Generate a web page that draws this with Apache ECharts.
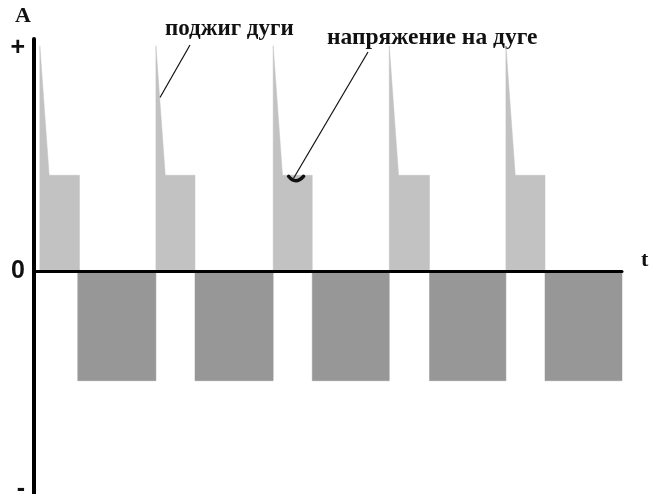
<!DOCTYPE html>
<html>
<head>
<meta charset="utf-8">
<script src="https://cdn.jsdelivr.net/npm/echarts@6/dist/echarts.min.js"></script>
<style>
  html, body { margin: 0; padding: 0; background: #fff; }
  #chart { width: 649px; height: 494px; }
</style>
</head>
<body>
<div id="chart"></div>
<script>
// Pulsed arc welding current: ignition spike, arc-voltage plateau, reverse half-period.
// Time in arbitrary units (period ~10), amplitude normalised to the ignition peak.
const cycleStart     = [0.5, 10.45, 20.5, 30.45, 40.45];   // ignition moment of each cycle
const arcEnd         = [3.9, 13.8, 23.85, 33.9, 43.8];     // end of positive plateau
const reverseStart   = [3.75, 13.8, 23.85, 33.9, 43.8];    // start of negative half-period
const reverseEnd     = [10.45, 20.5, 30.45, 40.45, 50.4];  // end of negative half-period
const ignitionPeak   = [1.0, 1.0, 1.0, 1.0, 1.0];
const arcVoltage     = [0.425, 0.425, 0.425, 0.425, 0.425];
const reverseVoltage = [-0.487, -0.487, -0.487, -0.487, -0.487];
const spikeTop  = 0.15;   // duration of spike crest
const spikeFall = 0.8;    // time for spike to fall to arc voltage

const tickValues = [-0.97, 0, 0.99];
const tickLabels = ['-', '0', '+'];

const positiveData = [];
const negativeData = [];
cycleStart.forEach((s, i) => {
  positiveData.push(
    [s, 0], [s, ignitionPeak[i]], [s + spikeTop, ignitionPeak[i]],
    [s + spikeFall, arcVoltage[i]], [arcEnd[i], arcVoltage[i]], [arcEnd[i], 0]
  );
  negativeData.push(
    [reverseStart[i], 0], [reverseStart[i], reverseVoltage[i]],
    [reverseEnd[i], reverseVoltage[i]], [reverseEnd[i], 0]
  );
});

const serif = '"Liberation Serif", "Times New Roman", serif';
const sans = '"Liberation Sans", Arial, sans-serif';

const chart = echarts.init(document.getElementById('chart'), null, { renderer: 'canvas' });
chart.setOption({
  animation: false,
  backgroundColor: '#fff',
  grid: { left: 34, right: 27, top: 39, bottom: 0, outerBoundsMode: 'none', containLabel: false },
  xAxis: {
    type: 'value', min: 0, max: 50.4, z: 5,
    axisLine: { onZero: true, lineStyle: { color: '#000', width: 3 } },
    axisTick: { show: false }, axisLabel: { show: false }, splitLine: { show: false },
    name: 't', nameGap: 19,
    nameTextStyle: { fontFamily: serif, fontWeight: 'bold', fontSize: 22, color: '#111', verticalAlign: 'bottom' }
  },
  yAxis: {
    type: 'value', min: -0.99, max: 1.03, z: 5,
    axisLine: { show: true, lineStyle: { color: '#000', width: 4 } },
    axisTick: { show: false }, splitLine: { show: false },
    axisLabel: {
      customValues: tickValues,
      formatter: v => tickLabels[tickValues.indexOf(v)],
      fontFamily: sans, fontWeight: 'bold', fontSize: 25, color: '#111', margin: 9
    },
    name: 'A', nameGap: 12,
    nameTextStyle: { fontFamily: serif, fontWeight: 'bold', fontSize: 22, color: '#111', align: 'right', padding: [0, 3, 0, 0] }
  },
  series: [
    {
      type: 'line', data: positiveData, showSymbol: false, silent: true,
      lineStyle: { color: '#c2c2c2', width: 0.5 },
      areaStyle: { color: '#c2c2c2', opacity: 1 }
    },
    {
      type: 'line', data: negativeData, showSymbol: false, silent: true,
      lineStyle: { color: '#979797', width: 0.5 },
      areaStyle: { color: '#979797', opacity: 1 }
    }
  ]
});

// Annotations: leader lines anchored to the waveform in data coordinates
const px = p => chart.convertToPixel({ gridIndex: 0 }, p);
const ignitionTip = px([cycleStart[1] + 0.35, 0.77]);
const arcTip = px([cycleStart[2] + 1.75, arcVoltage[2]]);

chart.setOption({
  graphic: [
    {
      type: 'text', left: 165, top: 18,
      style: { text: 'поджиг дуги', font: 'bold 23px ' + serif, fill: '#111' }
    },
    {
      type: 'text', left: 327, top: 26,
      style: { text: 'напряжение на дуге', font: 'bold 23.5px ' + serif, fill: '#111' }
    },
    {
      type: 'line', z: 10,
      shape: { x1: 190, y1: 45, x2: ignitionTip[0], y2: ignitionTip[1] },
      style: { stroke: '#111', lineWidth: 1.2 }
    },
    {
      type: 'line', z: 10,
      shape: { x1: 368, y1: 52, x2: arcTip[0], y2: arcTip[1] + 3 },
      style: { stroke: '#111', lineWidth: 1.2 }
    },
    {
      type: 'bezierCurve', z: 10,
      shape: {
        x1: arcTip[0] - 5, y1: arcTip[1] + 1,
        cpx1: arcTip[0] + 2, cpy1: arcTip[1] + 10,
        x2: arcTip[0] + 10, y2: arcTip[1] + 1
      },
      style: { stroke: '#111', lineWidth: 3.5, fill: null, lineCap: 'round' }
    }
  ]
});
</script>
</body>
</html>
